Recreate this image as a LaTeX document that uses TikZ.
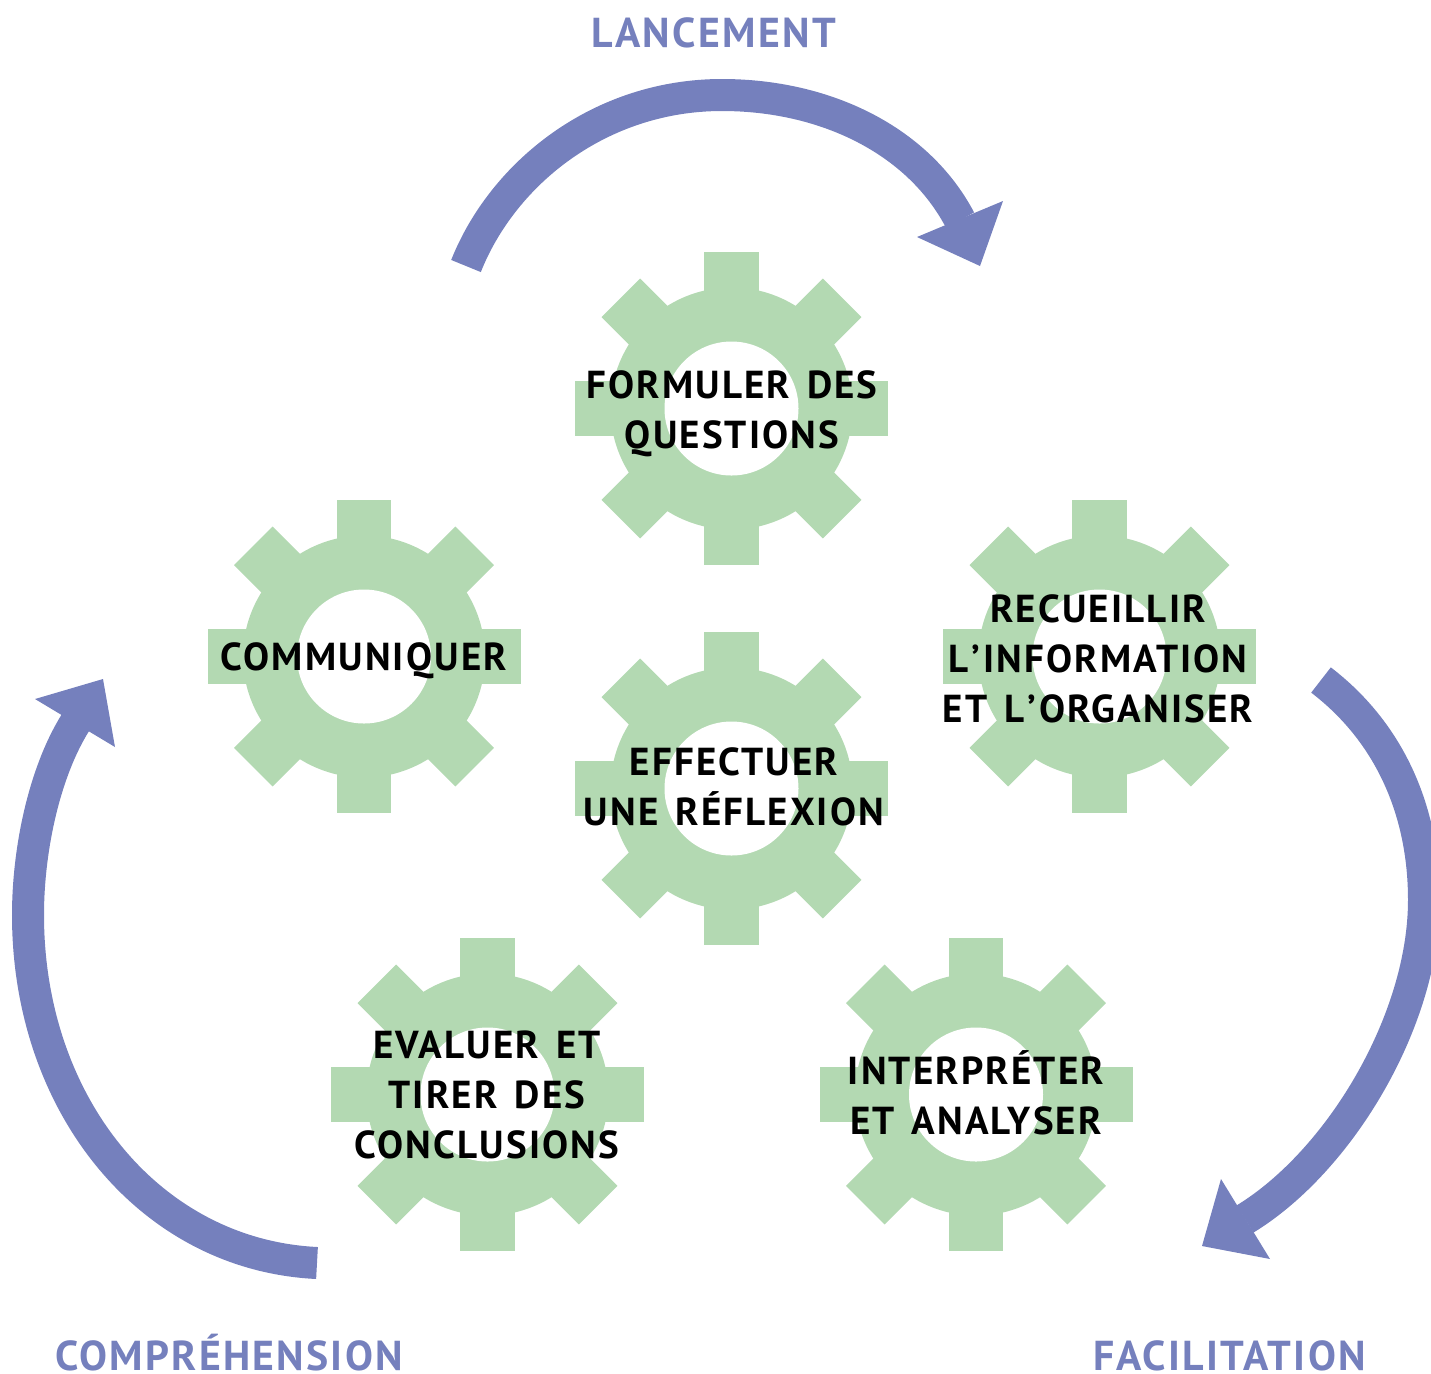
\documentclass[tikz,border=0pt]{standalone}
\usepackage{fontspec}
\setmainfont{PT Sans}[LetterSpace=5.5,WordSpace=1.4]
\definecolor{flowblue}{HTML}{7580BD}
\definecolor{geargreen}{HTML}{B3D9B2}
\newcommand{\apo}{\kern1.5pt’\kern1.5pt}
\tikzset{
   x=0.5pt, y=-0.5pt,
   geartext/.style={font=\fontsize{19.5}{25}\selectfont\bfseries, align=center, inner sep=0pt, text=black},
   phasetext/.style={font=\fontsize{20.9}{25}\selectfont\bfseries, anchor=base, inner sep=0pt, text=flowblue},
   flow/.style={draw=flowblue, line width=16pt},
   gear/.pic={
      \fill[geargreen] (0,0) circle (121);
      \foreach \a in {0,45,90,135}
         \fill[geargreen, rotate=\a] (-27.25,-156.5) rectangle (27.25,156.5);
      \fill[white] (0,0) circle (67);
   }
}
\begin{document}
\begin{tikzpicture}

   \useasboundingbox (0,0) rectangle (1431,1373);

   % gears
   \pic at (731.5,408.5) {gear};
   \pic at (364,656.5) {gear};
   \pic at (1099.5,656.5) {gear};
   \pic at (731.5,788.5) {gear};
   \pic at (487.5,1094.5) {gear};
   \pic at (976,1094.5) {gear};

   \node[geartext] (formuler) at (732,414) {FORMULER DES\\QUESTIONS};
   \node[geartext] (communiquer) at (364,661) {COMMUNIQUER};
   \node[geartext] (recueillir) at (1098,659) {RECUEILLIR\\L\apo INFORMATION\\ET L\apo ORGANISER};
   \node[geartext] (effectuer) at (734,787) {EFFECTUER\\UNE RÉFLEXION};
   \node[geartext] (evaluer) at (487,1095) {EVALUER ET\\TIRER DES\\CONCLUSIONS};
   \node[geartext] (interpreter) at (976,1093) {INTERPRÉTER\\ET ANALYSER};

   % phases
   \node[phasetext] (lancement) at (713.5,47) {LANCEMENT};
   \node[phasetext] (facilitation) at (1229.5,1370) {FACILITATION};
   \node[phasetext] (comprehension) at (229,1370) {COMPRÉHENSION};

   % arrows
   \draw[flow] (466,266) .. controls (503,173) and (600,95) .. (722,95)
      .. controls (825,95) and (918,140) .. (960,220);
   \fill[flowblue] (1003,201) -- (980,266) -- (917,237) -- cycle;

   \draw[flow] (1321,680) .. controls (1389,732) and (1424,810) .. (1424,900)
      .. controls (1424,1020) and (1340,1161) .. (1245,1219);
   \fill[flowblue] (1221,1179) -- (1202,1246) -- (1270,1259) -- cycle;

   \draw[flow] (317,1263) .. controls (150,1255) and (28,1105) .. (28,915)
      .. controls (28,850) and (44,773) .. (75.5,722.5);
   \fill[flowblue] (35,699) -- (103,679) -- (115,747) -- cycle;

\end{tikzpicture}
\end{document}
